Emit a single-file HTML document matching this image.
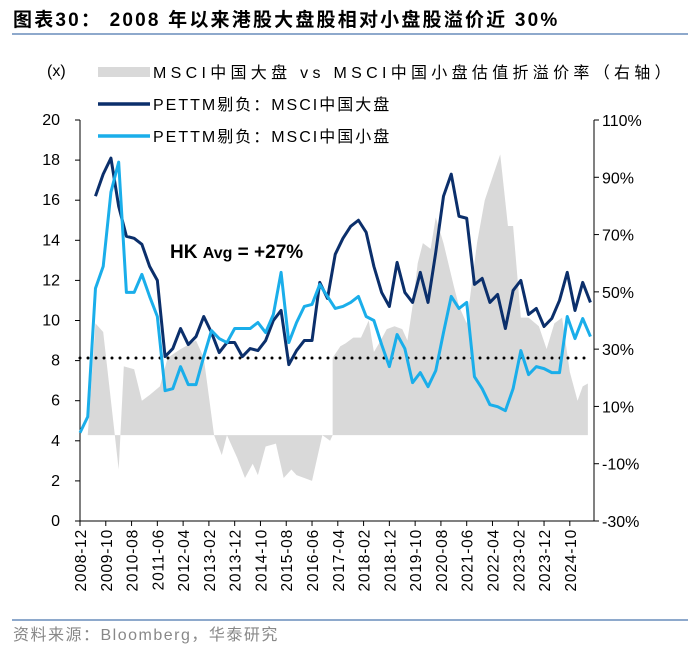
<!DOCTYPE html>
<html><head><meta charset="utf-8"><style>
body{margin:0;background:#fff;}
svg{display:block;font-family:"Liberation Sans","Noto Sans CJK SC",sans-serif;}
</style></head><body>
<svg id="chart" width="700" height="652" viewBox="0 0 700 652" xmlns="http://www.w3.org/2000/svg">
<text x="13" y="26" font-size="19" font-weight="bold" letter-spacing="2.2" fill="#000">图表30： 2008 年以来港股大盘股相对小盘股溢价近 30%</text>
<line x1="12" y1="34" x2="688" y2="34" stroke="#8ea9cc" stroke-width="2"/>
<g id="plot"></g>
<text x="47" y="76" font-size="16">(x)</text>
<g>
 <rect x="98" y="67" width="52" height="10" fill="#d9d9d9"/>
 <text x="153" y="78" font-size="16" letter-spacing="4.3">MSCI中国大盘 vs MSCI中国小盘估值折溢价率（右轴）</text>
 <line x1="98" y1="104" x2="150" y2="104" stroke="#0b2f6b" stroke-width="3.5"/>
 <text x="153" y="110" font-size="16" letter-spacing="2">PETTM剔负：MSCI中国大盘</text>
 <line x1="98" y1="136" x2="150" y2="136" stroke="#1aaeea" stroke-width="3.5"/>
 <text x="153" y="142" font-size="16" letter-spacing="2">PETTM剔负：MSCI中国小盘</text>
</g>
<text x="170" y="258" font-size="19" font-weight="bold">HK <tspan font-size="16">Avg</tspan> = +27%</text>
<line x1="12" y1="620" x2="688" y2="620" stroke="#8ea9cc" stroke-width="2"/>
<text x="13" y="640" font-size="16" letter-spacing="1.5" fill="#888">资料来源：Bloomberg，华泰研究</text>
</svg>
<script>
// months since 2008-12
const largeStartMonth = 6;
const smallStartMonth = 0;
const stepMonths = 3;
const largePE = [16.2,17.3,18.1,15.7,14.2,14.1,13.8,12.7,12.0,8.2,8.6,9.6,8.8,9.2,10.2,9.4,8.4,8.9,8.9,8.2,8.6,8.5,9.0,10.0,10.5,7.8,8.5,9.0,9.0,11.9,11.1,13.3,
14.1,14.7,15.0,14.4,12.7,11.4,10.7,12.9,11.4,10.9,12.4,10.9,13.4,16.2,17.3,15.2,15.1,11.8,12.1,10.9,11.3,9.6,11.5,12.0,10.3,10.6,9.7,10.1,11.0,12.4,10.5,11.9,10.9];
const smallPE = [4.4,5.2,11.6,12.7,16.4,17.9,11.4,11.4,12.3,11.2,10.2,6.5,6.6,7.7,6.8,6.8,8.2,9.5,9.1,8.9,9.6,9.6,9.6,9.9,9.4,10.3,12.4,8.9,9.9,10.7,10.8,11.8,11.2,10.6,
10.7,10.9,11.2,10.2,10.0,8.8,7.7,9.3,8.6,6.9,7.4,6.7,7.5,9.4,11.2,10.6,10.9,7.2,6.6,5.8,5.7,5.5,6.6,8.5,7.3,7.7,7.6,7.4,7.4,10.2,9.1,10.1,9.2];
const premMonths = [3,6,9,12,15,17,21,24,27,31,34,39,43,45,48,52,55,57,61,64,67,69,72,76,79,82,84,90,94,97,98,98,101,103,106,109,112,114,116,119,122,125,127,129,131,133,136,138,141,145,147,150,152,154,157,160,163,166,168,171,174,178,181,184,187,190,193,195,197];
const premValues = [0,39,36,12,-12,24,23,12,14,17,27,30,32,33,27,0,-7,0,-8,-15,-10,-14,-4,-3,-15,-12,-14,-16,0,-2,0,27,31,32,34,34,40,29,32,37,38,37,33,45,60,67,65,76,67,52,45,39,53,67,82,90,98,73,73,41,41,38,30,39,41,22,12,17,18];
const avgPE = 8.13;
const xTickLabels = ["2008-12","2009-10","2010-08","2011-06","2012-04","2013-02","2013-12","2014-10","2015-08","2016-06","2017-04","2018-02","2018-12","2019-10","2020-08","2021-06","2022-04","2023-02","2023-12","2024-10"];
const leftTicks = [0,2,4,6,8,10,12,14,16,18,20];
const rightTicks = [-30,-10,10,30,50,70,90,110];

const NS="http://www.w3.org/2000/svg";
const X0=80, X1=594, YT=120, YB=521;
const x = m => X0 + m*2.578;
const yL = v => YB - (v-0)/(20-0)*(YB-YT);
const yR = v => YB - (v+30)/(140)*(YB-YT);
const plot=document.getElementById('plot');
function mk(t,a){const e=document.createElementNS(NS,t);for(const k in a)e.setAttribute(k,a[k]);plot.appendChild(e);return e;}

let d=`M${x(premMonths[0])},${yR(0)}`;
premMonths.forEach((m,i)=>{d+=` L${x(m)},${yR(premValues[i])}`;});
d+=` L${x(premMonths[premMonths.length-1])},${yR(0)} Z`;
const area=mk('path',{d:d,fill:'#d9d9d9'});



const ax=mk('path',{d:`M${X0},${YT} V${YB} H${X1} V${YT}`,fill:'none',stroke:'#000','stroke-width':1});


leftTicks.forEach(v=>{
  const t=mk('line',{x1:X0-5,x2:X0,y1:yL(v),y2:yL(v),stroke:'#000'});
  
  
  const l=mk('text',{x:X0-20,y:yL(v)+5,'font-size':16,'text-anchor':'end'});l.textContent=v;
  
  
});
rightTicks.forEach(v=>{
  const t=mk('line',{x1:X1,x2:X1+5,y1:yR(v),y2:yR(v),stroke:'#000'});
  
  
  const l=mk('text',{x:X1+8,y:yR(v)+6,'font-size':16});l.textContent=v+'%';
  
  
});
xTickLabels.forEach((s,i)=>{
  const xx=x(i*10);
  const t=mk('line',{x1:xx,x2:xx,y1:YB,y2:YB+5,stroke:'#000'});
  
  
  const l=mk('text',{x:0,y:0,'font-size':15.5,'text-anchor':'end','letter-spacing':0.8,transform:`translate(${xx+6},${YB+8}) rotate(-90)`});l.textContent=s;
  
  
});

const av=mk('line',{x1:X0,x2:x(197),y1:yL(avgPE),y2:yL(avgPE),stroke:'#000','stroke-width':3,'stroke-dasharray':'0 8','stroke-linecap':'round'});



function series(vals,start,color,name){
  const pts=vals.map((v,i)=>`${x(start+i*stepMonths)},${yL(v)}`).join(' ');
  const p=mk('polyline',{points:pts,fill:'none',stroke:color,'stroke-width':3,'stroke-linejoin':'round'});
  
  
}
series(largePE,largeStartMonth,'#0b2f6b','large-cap-pe-line');
series(smallPE,smallStartMonth,'#1aaeea','small-cap-pe-line');
</script>
</body></html>
